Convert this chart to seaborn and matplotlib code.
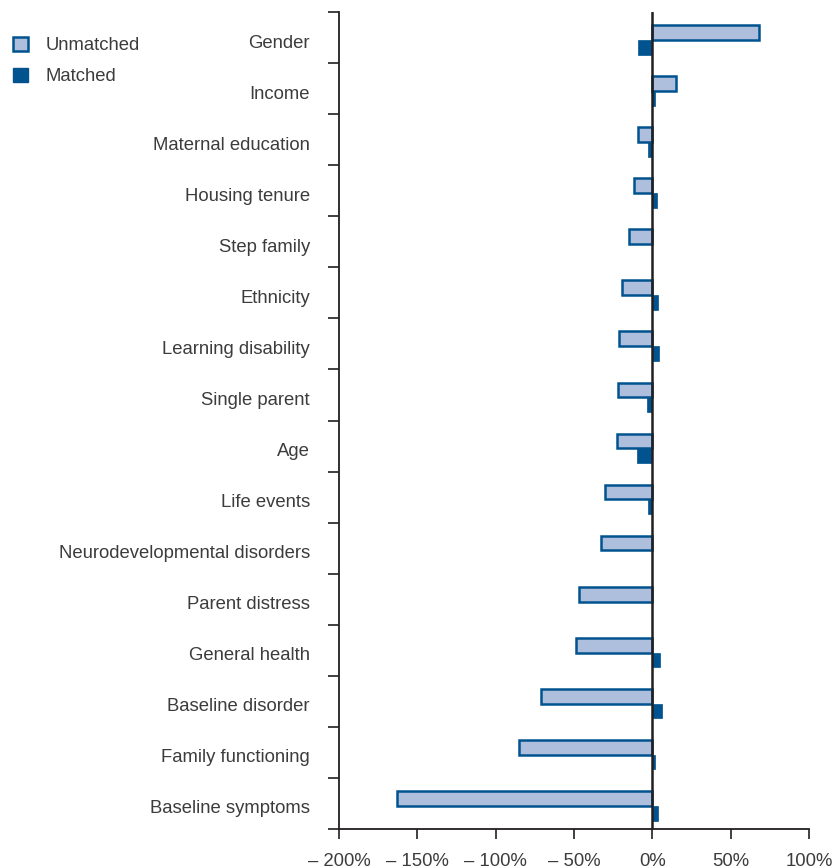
import numpy as np
import pandas as pd
import matplotlib
matplotlib.use("Agg")
import matplotlib.pyplot as plt
import matplotlib.transforms as mtransforms
import seaborn as sns
from matplotlib.patches import Patch
from matplotlib.ticker import FixedLocator

categories = [
    "Gender", "Income", "Maternal education", "Housing tenure", "Step family",
    "Ethnicity", "Learning disability", "Single parent", "Age", "Life events",
    "Neurodevelopmental disorders", "Parent distress", "General health",
    "Baseline disorder", "Family functioning", "Baseline symptoms",
]
unmatched = [68, 15, -9, -12, -15, -19.5, -21, -22, -22.5, -30, -33, -47, -49, -71, -85, -163]
matched = [-9, 1.5, -3, 3, 0, 3.5, 4.5, -3.5, -10, -2.5, 0, 0, 5, 6, 2, 3.5]
xticks = [-200, -150, -100, -50, 0, 50, 100]
xticklabels = ["\u2013 200%", "\u2013 150%", "\u2013 100%", "\u2013 50%", "0%", "50%", "100%"]

df = pd.DataFrame({
    "variable": categories * 2,
    "value": unmatched + matched,
    "group": ["Unmatched"] * len(categories) + ["Matched"] * len(categories),
})

sns.set_style("white")
plt.rcParams["font.family"] = ["Liberation Sans", "DejaVu Sans"]
text_color = "#3c3c3c"
light = "#adbfdc"
dark = "#00538f"
fs = 13.3

fig = plt.figure(figsize=(8.36, 8.68), dpi=100)
ax = fig.add_axes([0.4055, 0.045, 0.5622, 0.941])

sns.barplot(data=df, y="variable", x="value", hue="group", orient="h",
            palette={"Unmatched": light, "Matched": dark}, width=0.58,
            saturation=1, dodge=True, legend=False, ax=ax)

# outline the unmatched bars, nudge the pairs slightly down
n = len(categories)
for i, p in enumerate(ax.patches):
    p.set_y(p.get_y() + 0.045)
    p.set_edgecolor(dark)
    p.set_linewidth(1.8 if i < n else 0.5)

ax.axvline(0, color="#231f20", lw=1.8, zorder=5)

ax.set_xlim(-200, 100)
ax.set_ylim(n - 0.5, -0.5)
ax.set_xticks(xticks)
ax.set_xticklabels(xticklabels, fontsize=fs, color=text_color)
ax.set_yticks(range(n))
ax.set_yticklabels(categories, fontsize=fs, color=text_color)
ax.yaxis.set_minor_locator(FixedLocator(np.arange(-0.5, n, 1)))
ax.tick_params(axis="y", which="major", length=0, pad=21)
ax.tick_params(axis="y", which="minor", length=8, width=1.2, color="#231f20", direction="out", left=True)
ax.tick_params(axis="x", which="major", length=7, width=1.2, color="#231f20", direction="out", bottom=True, pad=10)
ax.set_xlabel("")
ax.set_ylabel("")

# labels sit a touch below the category centre in the original
shift = mtransforms.ScaledTranslation(0, -2.5 / 72, fig.dpi_scale_trans)
for lab in ax.get_yticklabels():
    lab.set_transform(lab.get_transform() + shift)

for side in ["top", "right"]:
    ax.spines[side].set_visible(False)
for side in ["left", "bottom"]:
    ax.spines[side].set_color("#231f20")
    ax.spines[side].set_linewidth(1.3)

handles = [Patch(facecolor=light, edgecolor=dark, linewidth=1.8, label="Unmatched"),
           Patch(facecolor=dark, edgecolor=dark, label="Matched")]
fig.legend(handles=handles, loc="upper left", bbox_to_anchor=(-0.004, 0.977), frameon=False,
           fontsize=fs, labelcolor=text_color, handlelength=0.8, handleheight=0.8,
           handletextpad=0.95, labelspacing=0.75)

fig.savefig("out.png", dpi=100)
